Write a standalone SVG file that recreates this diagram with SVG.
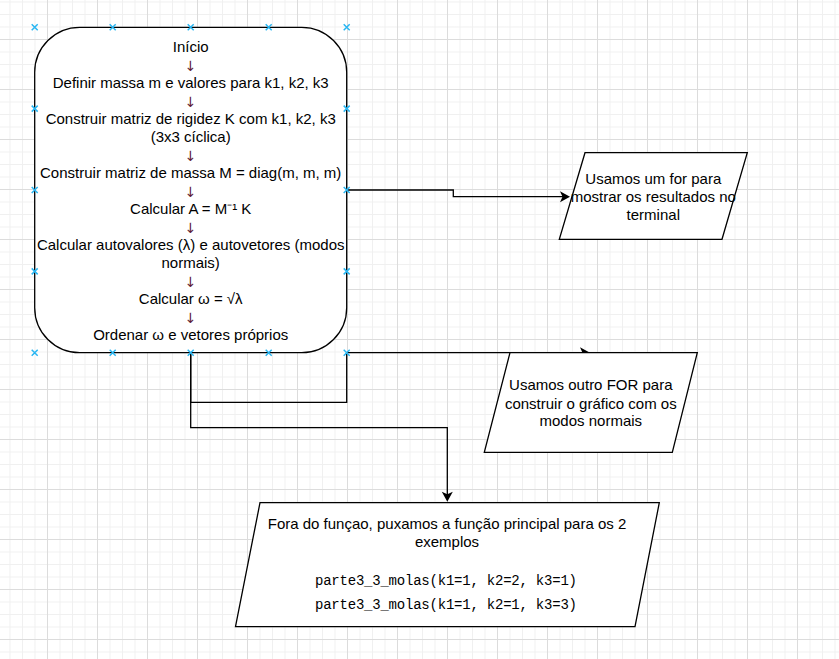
<svg xmlns="http://www.w3.org/2000/svg" width="839" height="659" viewBox="0 0 839 659">
  <defs>
    <!-- background grid: fine lines every 12.5px, stronger lines every 50px -->
    <pattern id="gridMinor" patternUnits="userSpaceOnUse" x="47" y="39" width="12.5" height="12.5">
      <rect width="1" height="12.5" fill="#f0f0f0"/>
      <rect width="12.5" height="1" fill="#f0f0f0"/>
    </pattern>
    <pattern id="gridMajor" patternUnits="userSpaceOnUse" x="47" y="39" width="50" height="50">
      <rect width="1" height="50" fill="#dcdcdc"/>
      <rect width="50" height="1" fill="#dcdcdc"/>
    </pattern>
    <marker id="arrow" markerUnits="userSpaceOnUse" viewBox="0 0 11 12" markerWidth="11" markerHeight="12" refX="5.5" refY="6" orient="auto">
      <path d="M0.5,0.5 L10.5,6 L0.5,11.5 L3,6 Z" fill="#000"/>
    </marker>
    <path id="pin" d="M-3,-3 L3,3 M-3,3 L3,-3"/>
  </defs>
  <style>
    .shape { fill: #ffffff; stroke: #000000; stroke-width: 1.3; }
    .edge { fill: none; stroke: #000000; stroke-width: 1.3; }
    .lbl { font-family: "Liberation Sans", Arial, Helvetica, sans-serif; font-size: 15px; fill: #000000; text-anchor: middle; }
    .step { font-family: "DejaVu Sans", "Liberation Sans", sans-serif; font-size: 14px; fill: #5e1b36; text-anchor: middle; }
    .code { font-family: "Liberation Mono", "DejaVu Sans Mono", monospace; font-size: 14px; fill: #000000; }
    .pin { stroke: #29b6f2; stroke-width: 1.5; fill: none; }
  </style>

  <rect width="839" height="659" fill="#ffffff"/>
  <rect width="839" height="659" fill="url(#gridMinor)"/>
  <rect width="839" height="659" fill="url(#gridMajor)"/>

  <!-- main routine -->
  <g id="n-main">
    <rect class="shape" x="34.7" y="27.3" width="312" height="325.4" rx="45" ry="45"/>
    <text class="lbl" x="190.7" y="52">Início</text>
    <text class="step" x="190.7" y="71">↓</text>
    <text class="lbl" x="190.7" y="88">Definir massa m e valores para k1, k2, k3</text>
    <text class="step" x="190.7" y="107">↓</text>
    <text class="lbl" x="190.7" y="124">Construir matriz de rigidez K com k1, k2, k3</text>
    <text class="lbl" x="190.7" y="142">(3x3 cíclica)</text>
    <text class="step" x="190.7" y="161">↓</text>
    <text class="lbl" x="190.7" y="178">Construir matriz de massa M = diag(m, m, m)</text>
    <text class="step" x="190.7" y="197">↓</text>
    <text class="lbl" x="190.7" y="214">Calcular A = M⁻¹ K</text>
    <text class="step" x="190.7" y="233">↓</text>
    <text class="lbl" x="190.7" y="250">Calcular autovalores (λ) e autovetores (modos</text>
    <text class="lbl" x="190.7" y="268">normais)</text>
    <text class="step" x="190.7" y="287">↓</text>
    <text class="lbl" x="190.7" y="304">Calcular ω = √λ</text>
    <text class="step" x="190.7" y="323">↓</text>
    <text class="lbl" x="190.7" y="340">Ordenar ω e vetores próprios</text>
  </g>

  <!-- print results -->
  <g id="n-terminal">
    <polygon class="shape" points="585,152.7 747.3,152.7 722,239.3 559.3,239.3"/>
    <text class="lbl" x="653.3" y="183.8">Usamos um for para</text>
    <text class="lbl" x="653.3" y="201.8">mostrar os resultados no</text>
    <text class="lbl" x="653.3" y="219.6">terminal</text>
  </g>

  <g id="connectors">
    <path class="edge" d="M346.7,190 H453.3 V196.7 H565" marker-end="url(#arrow)"/>
    <path class="edge" d="M346.7,352.7 H585" marker-end="url(#arrow)"/>
    <path class="edge" d="M190.7,352.7 V402.3 H346.7 V352.7"/>
    <path class="edge" d="M190.7,352.7 V427.7 H447.3 V496.7" marker-end="url(#arrow)"/>
  </g>

  <!-- plot normal modes -->
  <g id="n-plot">
    <polygon class="shape" points="510,352.7 697.3,352.7 672.3,452.3 484.3,452.3"/>
    <text class="lbl" x="590.8" y="390.3">Usamos outro FOR para</text>
    <text class="lbl" x="590.8" y="408.5">construir o gráfico com os</text>
    <text class="lbl" x="590.8" y="426.4">modos normais</text>
  </g>

  <!-- top-level calls -->
  <g id="n-call">
    <polygon class="shape" points="260,502.7 659.3,502.7 635,626.7 235.5,626.7"/>
    <text class="lbl" x="447" y="528.6">Fora do funçao, puxamos a função principal para os 2</text>
    <text class="lbl" x="447" y="547">exemplos</text>
    <text class="code" x="315" y="585" textLength="262" lengthAdjust="spacing">parte3_3_molas(k1=1, k2=2, k3=1)</text>
    <text class="code" x="315" y="609" textLength="262" lengthAdjust="spacing">parte3_3_molas(k1=1, k2=1, k3=3)</text>
  </g>

  <!-- connection points of the main routine -->
  <g id="pins" class="pin">
    <use href="#pin" x="34.7" y="27.3"/>
    <use href="#pin" x="112.7" y="27.3"/>
    <use href="#pin" x="190.7" y="27.3"/>
    <use href="#pin" x="268.7" y="27.3"/>
    <use href="#pin" x="346.7" y="27.3"/>
    <use href="#pin" x="34.7" y="108.6"/>
    <use href="#pin" x="346.7" y="108.6"/>
    <use href="#pin" x="34.7" y="190"/>
    <use href="#pin" x="346.7" y="190"/>
    <use href="#pin" x="34.7" y="271.4"/>
    <use href="#pin" x="346.7" y="271.4"/>
    <use href="#pin" x="34.7" y="352.7"/>
    <use href="#pin" x="112.7" y="352.7"/>
    <use href="#pin" x="190.7" y="352.7"/>
    <use href="#pin" x="268.7" y="352.7"/>
    <use href="#pin" x="346.7" y="352.7"/>
  </g>
</svg>
